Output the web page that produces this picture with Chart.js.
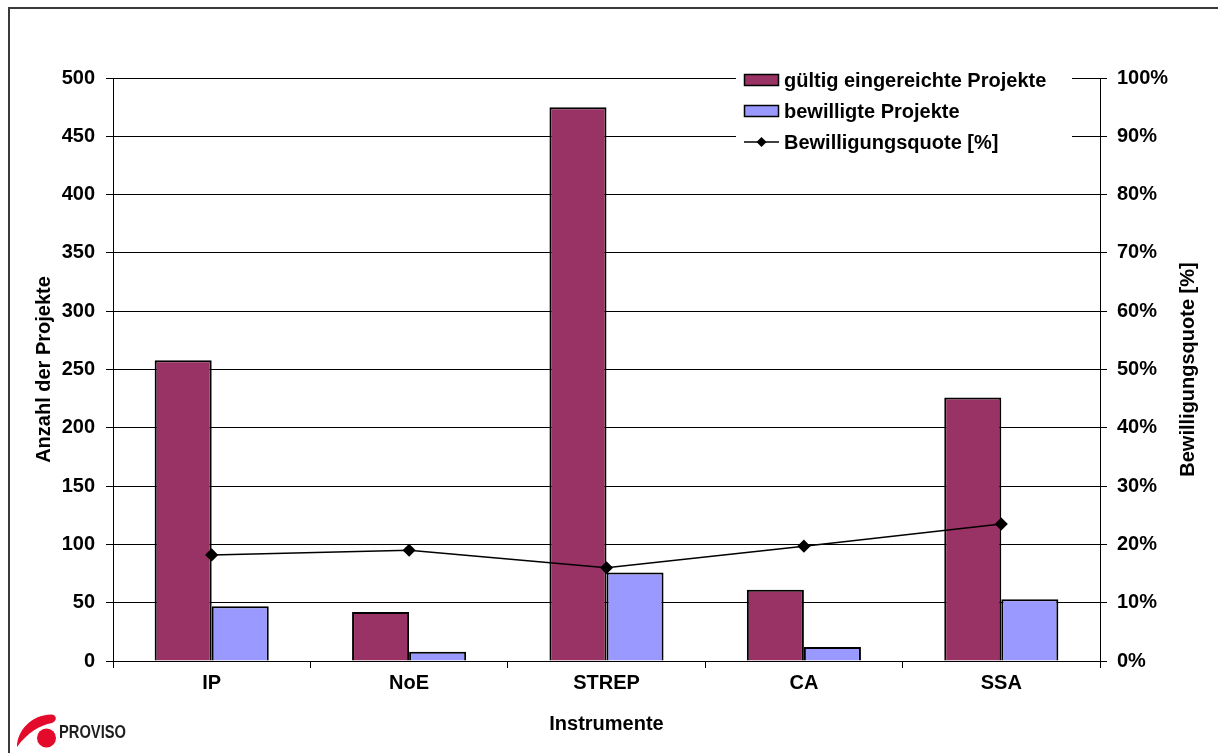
<!DOCTYPE html>
<html>
<head>
<meta charset="utf-8">
<script src="https://cdn.jsdelivr.net/npm/chart.js@4/dist/chart.umd.min.js"></script>
<style>
  html, body { margin: 0; padding: 0; background: #fff; overflow: hidden; }
  #wrap { position: relative; width: 1218px; height: 753px; }
  #frame { position: absolute; left: 8px; top: 7px; width: 1230px; height: 770px;
           border-left: 2px solid #3a3a3a; border-top: 2px solid #3a3a3a; box-sizing: border-box; }
  canvas { position: absolute; left: 0; top: 0; }
  #logo { position: absolute; left: 0; top: 700px; }
</style>
</head>
<body>
<div id="wrap">
  <canvas id="c" width="1218" height="753"></canvas>
  <div id="frame"></div>
  <svg id="logo" width="140" height="53" viewBox="0 700 140 53">
    <path d="M17,747 C17,731 31,715 51,714.5 C57,714.5 57.5,721 52,723 C40,725 27,733 17,747 Z" fill="#e30a2b"/>
    <circle cx="46.5" cy="738" r="9.5" fill="#e30a2b"/>
    <text x="59" y="738" textLength="67" lengthAdjust="spacingAndGlyphs"
          font-family="Liberation Sans, Arial, sans-serif" font-weight="bold" font-size="18" fill="#1e1e1e">PROVISO</text>
  </svg>
</div>
<script>
// Projektzahlen je Instrument
const categories = ['IP', 'NoE', 'STREP', 'CA', 'SSA'];
const eingereicht = [258, 42, 475, 61, 226];
const bewilligt = [47, 8, 76, 12, 53];
const quote = [18.2, 19.0, 16.0, 19.7, 23.5];

// Achsenbereiche
const countMax = 500;
const countStep = 50;
const pctMax = 100;
const pctStep = 10;

const FONT = { family: 'Liberation Sans, Arial, sans-serif', size: 20, weight: 'bold' };

// Legende innerhalb der Zeichenfläche und rechter Achsentitel (von unten nach oben)
const extras = {
  id: 'extras',
  afterDraw(chart) {
    const ctx = chart.ctx;
    ctx.save();
    ctx.fillStyle = '#fff';
    ctx.fillRect(736, 62, 336, 98);
    ctx.font = 'bold 20px "Liberation Sans", Arial, sans-serif';
    ctx.textBaseline = 'middle';
    ctx.textAlign = 'left';
    chart.data.datasets.forEach((ds, i) => {
      const y = 80 + i * 31;
      if ((ds.type || chart.config.type) === 'bar') {
        ctx.fillStyle = ds.backgroundColor;
        ctx.fillRect(744, y - 6, 35, 12);
        ctx.strokeStyle = '#000';
        ctx.lineWidth = 1.5;
        ctx.strokeRect(744.5, y - 5.5, 34, 11);
      } else {
        ctx.strokeStyle = '#000';
        ctx.lineWidth = 1.5;
        ctx.beginPath();
        ctx.moveTo(744, y);
        ctx.lineTo(779, y);
        ctx.stroke();
        ctx.fillStyle = '#000';
        ctx.beginPath();
        ctx.moveTo(761.5, y - 5);
        ctx.lineTo(766.5, y);
        ctx.lineTo(761.5, y + 5);
        ctx.lineTo(756.5, y);
        ctx.closePath();
        ctx.fill();
      }
      ctx.fillStyle = '#000';
      ctx.fillText(ds.label, 784, y + 1);
    });
    const a = chart.chartArea;
    ctx.translate(1188, (a.top + a.bottom) / 2);
    ctx.rotate(-Math.PI / 2);
    ctx.textAlign = 'center';
    ctx.fillText('Bewilligungsquote [%]', 0, 0);
    ctx.restore();
  }
};

new Chart(document.getElementById('c'), {
  type: 'bar',
  data: {
    labels: categories,
    datasets: [
      { label: 'gültig eingereichte Projekte', data: eingereicht, backgroundColor: '#993366',
        borderColor: '#000', borderWidth: 2, yAxisID: 'y', order: 2 },
      { label: 'bewilligte Projekte', data: bewilligt, backgroundColor: '#9999ff',
        borderColor: '#000', borderWidth: 2, yAxisID: 'y', order: 2 },
      { type: 'line', label: 'Bewilligungsquote [%]', data: quote, yAxisID: 'y1', order: 0,
        borderColor: '#000', borderWidth: 1.5, tension: 0, fill: false,
        pointStyle: 'rectRot', pointRadius: 5.5, pointBackgroundColor: '#000', pointBorderColor: '#000' }
    ]
  },
  options: {
    responsive: false,
    devicePixelRatio: 1,
    animation: false,
    events: [],
    categoryPercentage: 0.578,
    barPercentage: 1,
    layout: { padding: { top: 78, left: 28, right: 0, bottom: 13 } },
    plugins: { legend: { display: false }, tooltip: { enabled: false } },
    scales: {
      x: {
        offset: true,
        grid: { offset: true, drawOnChartArea: false, drawTicks: true, tickLength: 7, color: '#000' },
        border: { color: '#000', width: 1 },
        ticks: { color: '#000', font: FONT, padding: 3, maxRotation: 0 },
        title: { display: true, text: 'Instrumente', color: '#000', font: FONT },
        afterFit: s => { s.height = 79; }
      },
      y: {
        position: 'left',
        min: 0, max: countMax,
        ticks: { stepSize: countStep, color: '#000', font: FONT, padding: 11 },
        grid: { color: '#000', tickLength: 7 },
        border: { color: '#000', width: 1 },
        title: { display: true, text: 'Anzahl der Projekte', color: '#000', font: FONT },
        afterFit: s => { s.width = 85; }
      },
      y1: {
        position: 'right',
        min: 0, max: pctMax,
        ticks: { stepSize: pctStep, color: '#000', font: FONT, padding: 10, callback: v => v + '%' },
        grid: { drawOnChartArea: false, tickLength: 7, color: '#000' },
        border: { color: '#000', width: 1 },
        afterFit: s => { s.width = 118; }
      }
    }
  },
  plugins: [extras]
});
</script>
</body>
</html>
